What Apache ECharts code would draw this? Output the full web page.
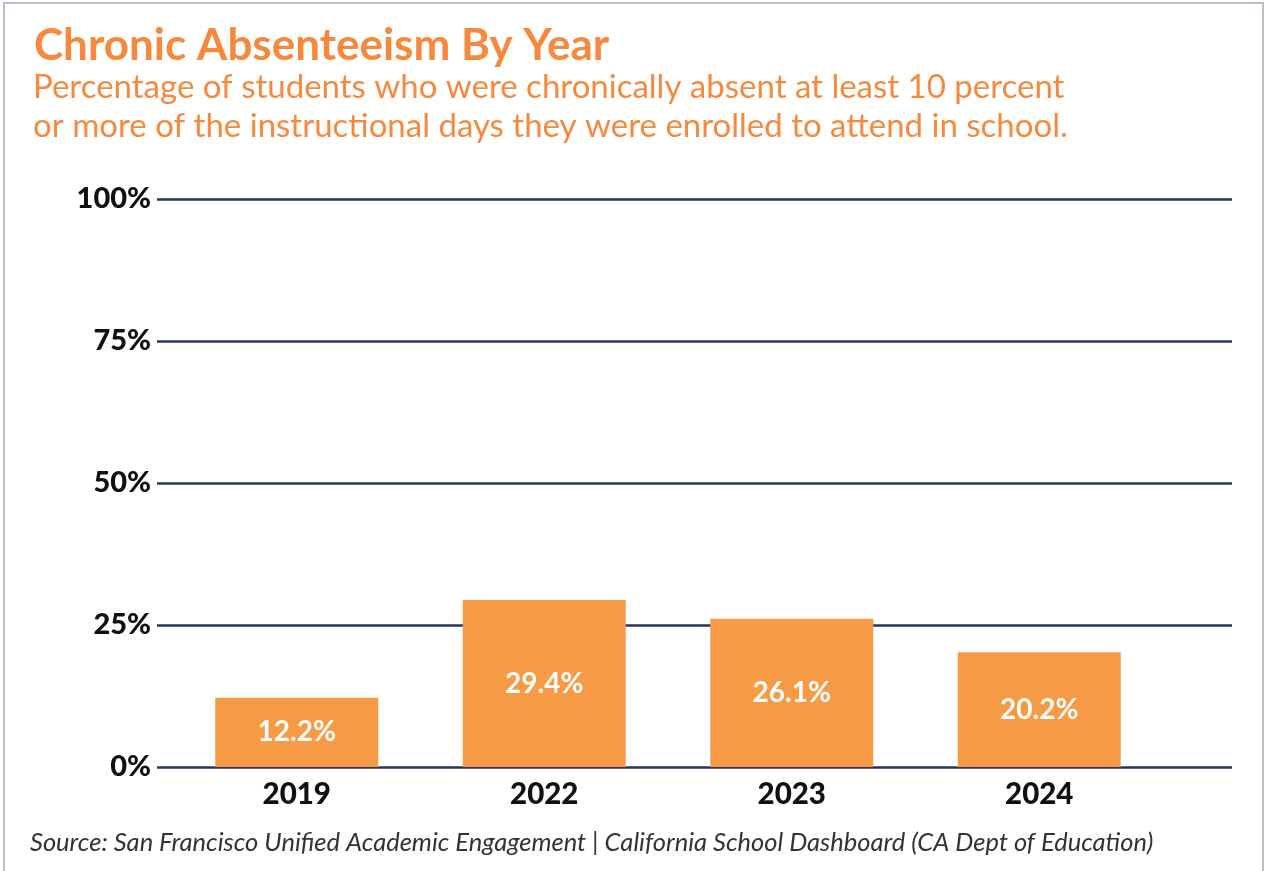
<!DOCTYPE html>
<html>
<head>
<meta charset="utf-8">
<title>Chronic Absenteeism By Year</title>
<script src="https://cdn.jsdelivr.net/npm/echarts@6/dist/echarts.min.js"></script>
<style>
  html, body { margin: 0; padding: 0; background: #ffffff; }
  #chart { width: 1267px; height: 871px; }
</style>
</head>
<body>
<div id="chart"></div>
<script>
// Chronic absenteeism rate by school year
const years = ['2019', '2022', '2023', '2024'];
const absentRates = [12.2, 29.4, 26.1, 20.2];
const yTicks = [0, 25, 50, 75, 100];

const ORANGE = '#f5893e';
const BAR = '#f79a46';
const NAVY = '#26355c';
const FONT = 'Lato';

const chart = echarts.init(document.getElementById('chart'), null, { renderer: 'canvas' });

chart.setOption({
  backgroundColor: '#ffffff',
  animation: false,
  title: [
    {
      text: 'Chronic Absenteeism By Year',
      left: 29, top: 19,
      textStyle: { fontFamily: FONT, fontWeight: 'bold', fontSize: 44, color: ORANGE }
    },
    {
      text: 'Percentage of students who were chronically absent at least 10 percent\nor more of the instructional days they were enrolled to attend in school.',
      left: 28, top: 63,
      textStyle: { fontFamily: FONT, fontWeight: 'normal', fontSize: 33, lineHeight: 39, color: ORANGE }
    },
    {
      text: 'Source: San Francisco Unified Academic Engagement | California School Dashboard (CA Dept of Education)',
      left: 25, top: 825,
      textStyle: { fontFamily: FONT, fontStyle: 'italic', fontWeight: 'normal', fontSize: 25.5, color: '#333333' }
    }
  ],
  graphic: [{
    type: 'rect',
    shape: { x: 4, y: 3, width: 1259, height: 880 },
    style: { fill: 'none', stroke: '#b9c0cc', lineWidth: 2 },
    silent: true
  }],
  grid: [
    // value scale with its gridlines
    { left: 157, right: 35, top: 199, bottom: 104 },
    // bars
    { left: 173, right: 104, top: 199, bottom: 104 }
  ],
  xAxis: [
    { type: 'value', gridIndex: 0, show: false, min: 0, max: 1 },
    {
      type: 'category', gridIndex: 1, data: years,
      axisLine: { show: false }, axisTick: { show: false },
      axisLabel: { fontFamily: FONT, fontWeight: 900, fontSize: 29.5, color: '#111111', margin: 12 }
    }
  ],
  yAxis: [
    {
      type: 'value', gridIndex: 0, min: 0, max: 100, interval: 25,
      axisLine: { show: false }, axisTick: { show: false },
      axisLabel: {
        fontFamily: FONT, fontWeight: 900, fontSize: 29, color: '#111111', margin: 6,
        formatter: v => yTicks.includes(v) ? v + '%' : ''
      },
      splitLine: { show: true, lineStyle: { color: NAVY, width: 2.5 } }
    },
    { type: 'value', gridIndex: 1, min: 0, max: 100, show: false }
  ],
  series: [{
    type: 'bar',
    xAxisIndex: 1, yAxisIndex: 1,
    data: absentRates,
    barWidth: 163,
    z: 3,
    itemStyle: { color: BAR },
    label: {
      show: true, position: 'inside',
      formatter: p => p.value.toFixed(1) + '%',
      fontFamily: FONT, fontWeight: 'bold', fontSize: 28, color: '#ffffff'
    }
  }]
});
</script>
</body>
</html>
